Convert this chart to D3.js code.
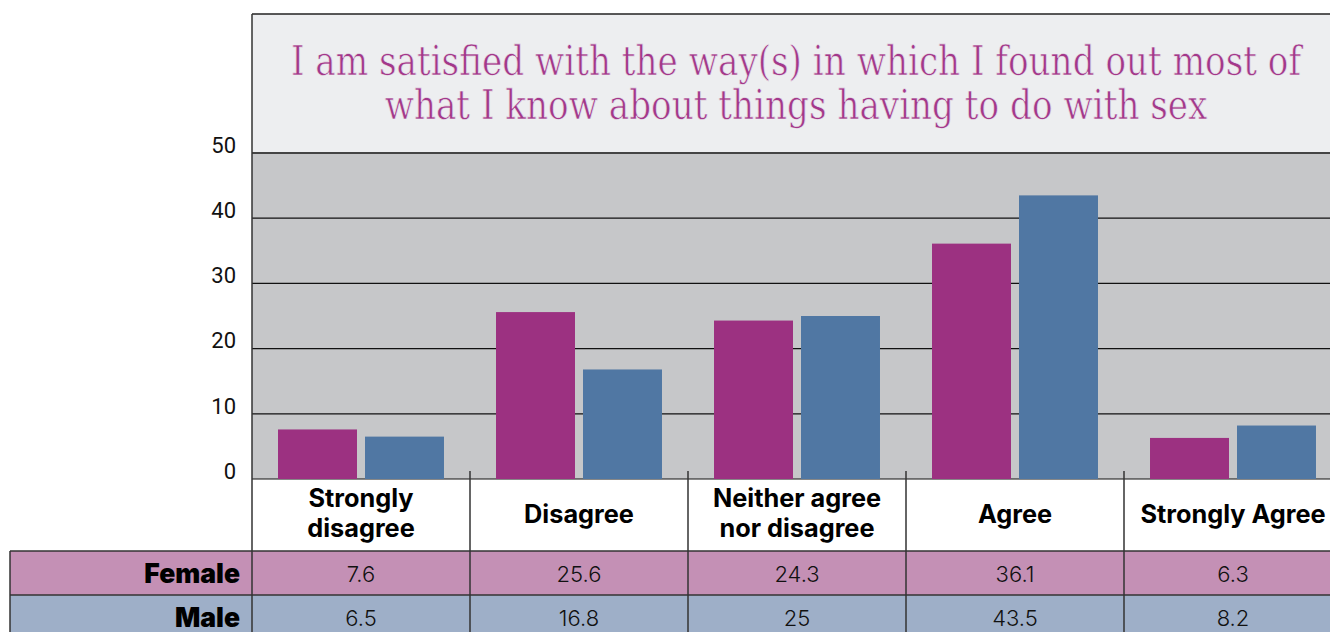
<!DOCTYPE html>
<html>
<head>
<meta charset="utf-8">
<script src="https://cdn.jsdelivr.net/npm/d3@7"></script>
<style>
  body { margin: 0; background: #fff; }
  svg { display: block; }
</style>
</head>
<body>
<div id="chart"></div>
<script>
let categories = ["Strongly disagree", "Disagree", "Neither agree nor disagree", "Agree", "Strongly Agree"];
let categoryLines = [["Strongly", "disagree"], ["Disagree"], ["Neither agree", "nor disagree"], ["Agree"], ["Strongly Agree"]];
let seriesNames = ["Female", "Male"];
let female = [7.6, 25.6, 24.3, 36.1, 6.3];
let male = [6.5, 16.8, 25, 43.5, 8.2];
let yTickValues = [0, 10, 20, 30, 40, 50];
let titleLines = ["I am satisfied with the way(s) in which I found out most of", "what I know about things having to do with sex"];

let width = 1330, height = 632;
let left = 252, right = 1342;
let titleTop = 14, plotTop = 153, plotBottom = 479;
let labelBottom = 551, rowH = 43;

let colors = { Female: "#9c3181", Male: "#5077a3" };
let rowColors = { Female: "#c490b5", Male: "#9eafc8" };

let svg = d3.select("#chart").append("svg")
  .attr("width", width).attr("height", height);

let x = d3.scaleBand().domain(categories).range([left, right]);
let xInner = d3.scaleBand().domain(seriesNames).range([0, x.bandwidth()]).paddingInner(0.092).paddingOuter(0.299);
let y = d3.scaleLinear().domain([0, 50]).range([plotBottom, plotTop]);

// title box
svg.append("rect").attr("x", left).attr("y", titleTop).attr("width", right - left).attr("height", plotTop - titleTop)
  .attr("fill", "#edeef0");
svg.append("line").attr("x1", left).attr("x2", right).attr("y1", titleTop).attr("y2", titleTop)
  .attr("stroke", "#222").attr("stroke-width", 1.5);

// title: size the font so the first line spans about 1010px, then stretch it a bit taller
let title = svg.append("g").selectAll("text").data(titleLines).join("text")
  .attr("transform", (d, i) => `translate(796,${75 + i * 44}) scale(1,1.18)`)
  .attr("text-anchor", "middle")
  .attr("font-family", "'DejaVu Serif', serif")
  .attr("font-size", 36)
  .attr("fill", "#a3388a")
  .attr("stroke", "#edeef0")
  .attr("stroke-width", 0.55)
  .text(d => d);
let natural = title.node().getComputedTextLength();
title.attr("font-size", 36 * 1010 / natural);

// plot background
svg.append("rect").attr("x", left).attr("y", plotTop).attr("width", right - left).attr("height", plotBottom - plotTop)
  .attr("fill", "#c6c7c9");

// gridlines
svg.append("g").selectAll("line").data(yTickValues).join("line")
  .attr("x1", left).attr("x2", right)
  .attr("y1", d => y(d)).attr("y2", d => y(d))
  .attr("stroke", d => d === 50 ? "#444" : "#111")
  .attr("stroke-width", d => d === 50 ? 2 : 1.2);

// y axis labels
svg.append("g").selectAll("text").data(yTickValues).join("text")
  .attr("x", 236).attr("y", d => y(d) - 6)
  .attr("text-anchor", "end")
  .attr("dominant-baseline", "middle")
  .attr("font-family", "Roboto, sans-serif")
  .attr("font-size", 22)
  .attr("fill", "#111")
  .text(d => d);

// bars
let groups = svg.append("g").selectAll("g").data(categories).join("g")
  .attr("transform", d => `translate(${x(d)},0)`);
groups.selectAll("rect").data((d, i) => [["Female", female[i]], ["Male", male[i]]]).join("rect")
  .attr("x", d => xInner(d[0]))
  .attr("width", xInner.bandwidth())
  .attr("y", d => y(d[1]))
  .attr("height", d => y(0) - y(d[1]))
  .attr("fill", d => colors[d[0]]);

// table rows
let series = [["Female", female], ["Male", male]];
series.forEach((s, i) => {
  let top = labelBottom + i * (rowH + 1);
  svg.append("rect").attr("x", 10).attr("y", top).attr("width", right - 10).attr("height", rowH + 1)
    .attr("fill", rowColors[s[0]]);
  svg.append("text")
    .attr("x", 240).attr("y", top + rowH / 2 + 3)
    .attr("text-anchor", "end").attr("dominant-baseline", "middle")
    .attr("font-family", "Inter, sans-serif").attr("font-weight", 900).attr("font-size", 26.5)
    .attr("fill", "#000")
    .text(s[0]);
  svg.append("g").selectAll("text").data(s[1]).join("text")
    .attr("x", (d, j) => x(categories[j]) + x.bandwidth() / 2)
    .attr("y", top + rowH / 2 + 3)
    .attr("text-anchor", "middle").attr("dominant-baseline", "middle")
    .attr("font-family", "Inter, sans-serif").attr("font-weight", 300).attr("font-size", 22)
    .attr("fill", "#111")
    .text(d => d);
});

// row borders
[labelBottom, labelBottom + rowH + 1].forEach(v => {
  svg.append("line").attr("x1", 10).attr("x2", right).attr("y1", v).attr("y2", v)
    .attr("stroke", "#333").attr("stroke-width", 1.5);
});
svg.append("line").attr("x1", 10).attr("x2", 10).attr("y1", labelBottom).attr("y2", height)
  .attr("stroke", "#333").attr("stroke-width", 1.5);

// category labels
svg.append("g").selectAll("text").data(categoryLines).join("text")
  .attr("x", (d, i) => x(categories[i]) + x.bandwidth() / 2)
  .attr("y", d => d.length === 1 ? 516 : 500)
  .attr("text-anchor", "middle").attr("dominant-baseline", "middle")
  .attr("font-family", "Inter, sans-serif").attr("font-weight", 700).attr("font-size", 25.3)
  .attr("fill", "#000")
  .selectAll("tspan").data(d => d).join("tspan")
  .attr("x", function () { return d3.select(this.parentNode).attr("x"); })
  .attr("dy", (d, i) => i === 0 ? 0 : 30)
  .text(d => d);

// vertical separators
svg.append("g").selectAll("line").data(categories.slice(1)).join("line")
  .attr("x1", d => x(d)).attr("x2", d => x(d))
  .attr("y1", plotBottom - 8).attr("y2", height)
  .attr("stroke", "#333").attr("stroke-width", 1.5);
svg.append("line").attr("x1", left).attr("x2", left).attr("y1", titleTop).attr("y2", height)
  .attr("stroke", "#333").attr("stroke-width", 1.5);
</script>
</body>
</html>
